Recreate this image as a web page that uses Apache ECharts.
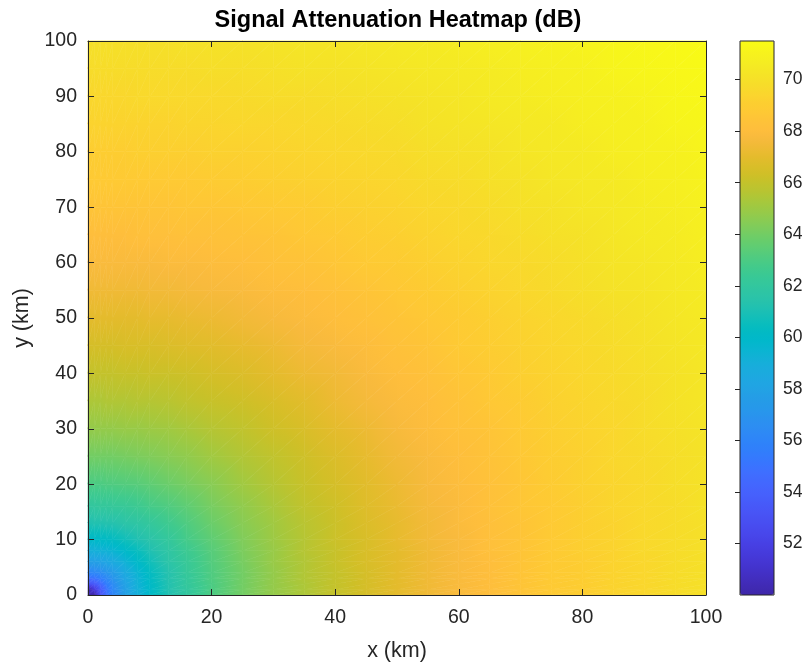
<!DOCTYPE html>
<html>
<head>
<meta charset="utf-8">
<script src="https://cdn.jsdelivr.net/npm/echarts@6.0.0/dist/echarts.min.js"></script>
<style>
html,body{margin:0;padding:0;background:#ffffff;}
#main{width:808px;height:668px;}
</style>
</head>
<body>
<div id="main"></div>
<script>
// Grid sample positions (km)
const xKm = [0,1,2,3,4,6,8,10,13,16,20,25,30,35,40,45,50,55,60,65,70,75,80,85,90,95,100];
const yKm = [0,1,2,3,4,6,8,10,13,16,20,25,30,35,40,45,50,55,60,65,70,75,80,85,90,95,100];

// Attenuation (dB), one row per yKm value, columns follow xKm
const attenuation = [
  [50.0,50.0,53.0,54.8,56.0,57.8,59.0,60.0,61.1,62.0,63.0,64.0,64.8,65.4,66.0,66.5,67.0,67.4,67.8,68.1,68.5,68.8,69.0,69.3,69.5,69.8,70.0],
  [50.0,51.5,53.5,55.0,56.2,57.8,59.1,60.0,61.2,62.0,63.0,64.0,64.8,65.4,66.0,66.5,67.0,67.4,67.8,68.1,68.5,68.8,69.0,69.3,69.5,69.8,70.0],
  [53.0,53.5,54.5,55.6,56.5,58.0,59.2,60.1,61.2,62.1,63.0,64.0,64.8,65.4,66.0,66.5,67.0,67.4,67.8,68.1,68.5,68.8,69.0,69.3,69.5,69.8,70.0],
  [54.8,55.0,55.6,56.3,57.0,58.3,59.3,60.2,61.3,62.1,63.1,64.0,64.8,65.5,66.0,66.5,67.0,67.4,67.8,68.1,68.5,68.8,69.0,69.3,69.5,69.8,70.0],
  [56.0,56.2,56.5,57.0,57.5,58.6,59.5,60.3,61.3,62.2,63.1,64.0,64.8,65.5,66.0,66.5,67.0,67.4,67.8,68.1,68.5,68.8,69.0,69.3,69.5,69.8,70.0],
  [57.8,57.8,58.0,58.3,58.6,59.3,60.0,60.7,61.6,62.3,63.2,64.1,64.9,65.5,66.1,66.6,67.0,67.4,67.8,68.1,68.5,68.8,69.0,69.3,69.5,69.8,70.0],
  [59.0,59.1,59.2,59.3,59.5,60.0,60.5,61.1,61.8,62.5,63.3,64.2,64.9,65.6,66.1,66.6,67.0,67.4,67.8,68.2,68.5,68.8,69.1,69.3,69.6,69.8,70.0],
  [60.0,60.0,60.1,60.2,60.3,60.7,61.1,61.5,62.1,62.8,63.5,64.3,65.0,65.6,66.2,66.6,67.1,67.5,67.8,68.2,68.5,68.8,69.1,69.3,69.6,69.8,70.0],
  [61.1,61.2,61.2,61.3,61.3,61.6,61.8,62.1,62.6,63.1,63.8,64.5,65.1,65.7,66.2,66.7,67.1,67.5,67.9,68.2,68.5,68.8,69.1,69.3,69.6,69.8,70.0],
  [62.0,62.0,62.1,62.1,62.2,62.3,62.5,62.8,63.1,63.5,64.1,64.7,65.3,65.9,66.3,66.8,67.2,67.6,67.9,68.3,68.6,68.8,69.1,69.4,69.6,69.8,70.1],
  [63.0,63.0,63.0,63.1,63.1,63.2,63.3,63.5,63.8,64.1,64.5,65.1,65.6,66.1,66.5,66.9,67.3,67.7,68.0,68.3,68.6,68.9,69.2,69.4,69.6,69.9,70.1],
  [64.0,64.0,64.0,64.0,64.0,64.1,64.2,64.3,64.5,64.7,65.1,65.5,65.9,66.3,66.7,67.1,67.5,67.8,68.1,68.4,68.7,69.0,69.2,69.5,69.7,69.9,70.1],
  [64.8,64.8,64.8,64.8,64.8,64.9,64.9,65.0,65.1,65.3,65.6,65.9,66.3,66.6,67.0,67.3,67.7,68.0,68.3,68.5,68.8,69.1,69.3,69.5,69.8,70.0,70.2],
  [65.4,65.4,65.4,65.5,65.5,65.5,65.6,65.6,65.7,65.9,66.1,66.3,66.6,66.9,67.3,67.6,67.9,68.1,68.4,68.7,68.9,69.2,69.4,69.6,69.8,70.1,70.3],
  [66.0,66.0,66.0,66.0,66.0,66.1,66.1,66.2,66.2,66.3,66.5,66.7,67.0,67.3,67.5,67.8,68.1,68.3,68.6,68.8,69.1,69.3,69.5,69.7,69.9,70.1,70.3],
  [66.5,66.5,66.5,66.5,66.5,66.6,66.6,66.6,66.7,66.8,66.9,67.1,67.3,67.6,67.8,68.0,68.3,68.5,68.8,69.0,69.2,69.4,69.6,69.8,70.0,70.2,70.4],
  [67.0,67.0,67.0,67.0,67.0,67.0,67.0,67.1,67.1,67.2,67.3,67.5,67.7,67.9,68.1,68.3,68.5,68.7,68.9,69.1,69.3,69.5,69.7,69.9,70.1,70.3,70.5],
  [67.4,67.4,67.4,67.4,67.4,67.4,67.4,67.5,67.5,67.6,67.7,67.8,68.0,68.1,68.3,68.5,68.7,68.9,69.1,69.3,69.5,69.7,69.9,70.1,70.2,70.4,70.6],
  [67.8,67.8,67.8,67.8,67.8,67.8,67.8,67.8,67.9,67.9,68.0,68.1,68.3,68.4,68.6,68.8,68.9,69.1,69.3,69.5,69.6,69.8,70.0,70.2,70.3,70.5,70.7],
  [68.1,68.1,68.1,68.1,68.1,68.1,68.2,68.2,68.2,68.3,68.3,68.4,68.5,68.7,68.8,69.0,69.1,69.3,69.5,69.6,69.8,70.0,70.1,70.3,70.5,70.6,70.8],
  [68.5,68.5,68.5,68.5,68.5,68.5,68.5,68.5,68.5,68.6,68.6,68.7,68.8,68.9,69.1,69.2,69.3,69.5,69.6,69.8,70.0,70.1,70.3,70.4,70.6,70.7,70.9],
  [68.8,68.8,68.8,68.8,68.8,68.8,68.8,68.8,68.8,68.8,68.9,69.0,69.1,69.2,69.3,69.4,69.5,69.7,69.8,70.0,70.1,70.3,70.4,70.5,70.7,70.8,71.0],
  [69.0,69.0,69.0,69.0,69.0,69.0,69.1,69.1,69.1,69.1,69.2,69.2,69.3,69.4,69.5,69.6,69.7,69.9,70.0,70.1,70.3,70.4,70.5,70.7,70.8,70.9,71.1],
  [69.3,69.3,69.3,69.3,69.3,69.3,69.3,69.3,69.3,69.4,69.4,69.5,69.5,69.6,69.7,69.8,69.9,70.1,70.2,70.3,70.4,70.5,70.7,70.8,70.9,71.1,71.2],
  [69.5,69.5,69.5,69.5,69.5,69.5,69.6,69.6,69.6,69.6,69.6,69.7,69.8,69.8,69.9,70.0,70.1,70.2,70.3,70.5,70.6,70.7,70.8,70.9,71.0,71.2,71.3],
  [69.8,69.8,69.8,69.8,69.8,69.8,69.8,69.8,69.8,69.8,69.9,69.9,70.0,70.1,70.1,70.2,70.3,70.4,70.5,70.6,70.7,70.8,70.9,71.1,71.2,71.3,71.4],
  [70.0,70.0,70.0,70.0,70.0,70.0,70.0,70.0,70.0,70.1,70.1,70.1,70.2,70.3,70.3,70.4,70.5,70.6,70.7,70.8,70.9,71.0,71.1,71.2,71.3,71.4,71.5]
];

// Axis / colour-bar ranges and tick steps
const xRange = [0, 100];
const yRange = [0, 100];
const xTickStep = 20;
const yTickStep = 10;
const colorRange = [50, 71.5];
const colorTickStep = 2;

// parula colour map (64 entries)
const parula = [
  '#3e26a8','#402ab4','#422ec0','#4332cb','#4537d5','#463cde','#4741e5','#4847eb',
  '#484df0','#4852f4','#4758f8','#465efb','#4563fd','#4269fe','#3e6fff','#3875fe',
  '#327cfc','#2f81fa','#2e87f7','#2d8cf3','#2b91ef','#2797eb','#259be7','#23a0e5',
  '#20a5e3','#1ca9df','#18addb','#12b1d6','#08b5d0','#01b8ca','#02bac3','#0bbdbc',
  '#19bfb6','#24c1ae','#2cc4a7','#31c69f','#37c897','#3fca8e','#4acb84','#57cc7a',
  '#64cd6f','#72cd64','#81cc59','#8fcb4e','#9dc943','#abc739','#b9c431','#c5c22a',
  '#d1bf27','#dcbd29','#e6bb2d','#f0ba36','#f8ba3d','#febe3c','#fec338','#fec934',
  '#fccf30','#fad62d','#f7dc2a','#f5e327','#f5e924','#f6ef20','#f7f51b','#f9fb15'
];

const cells = [];
for (let j = 0; j < yKm.length; j++) {
  for (let i = 0; i < xKm.length; i++) {
    cells.push([xKm[i], yKm[j], attenuation[j][i], i, j]);
  }
}

function colorOf(v) {
  let t = (v - colorRange[0]) / (colorRange[1] - colorRange[0]);
  t = Math.max(0, Math.min(1, t));
  return echarts.color.lerp(t, parula);
}

// planar colour interpolation over a triangle (like shading interp)
function shadeTriangle(tri) {
  const A = tri[0], B = tri[1], C = tri[2];
  const dxB = B.x - A.x, dyB = B.y - A.y, dxC = C.x - A.x, dyC = C.y - A.y;
  const det = dxB * dyC - dxC * dyB;
  const dv1 = B.v - A.v, dv2 = C.v - A.v;
  const vs = [A.v, B.v, C.v];
  const vmin = Math.min.apply(null, vs), vmax = Math.max.apply(null, vs);
  let fill;
  if (Math.abs(det) < 1e-9 || vmax - vmin < 1e-6) {
    fill = colorOf((vmin + vmax) / 2);
  } else {
    const a = (dv1 * dyC - dv2 * dyB) / det;
    const b = (dxB * dv2 - dxC * dv1) / det;
    const g2 = a * a + b * b;
    const P = tri[vs.indexOf(vmin)];
    const k = (vmax - vmin) / g2;
    const n = Math.max(2, Math.ceil((vmax - vmin) / 0.2) + 1);
    const stops = [];
    for (let s = 0; s < n; s++) {
      const t = s / (n - 1);
      stops.push({offset: t, color: colorOf(vmin + t * (vmax - vmin))});
    }
    fill = {type: 'linear', x: P.x, y: P.y, x2: P.x + a * k, y2: P.y + b * k, colorStops: stops, global: true};
  }
  return {
    type: 'polygon',
    shape: {points: [[A.x, A.y], [B.x, B.y], [C.x, C.y]]},
    style: {fill: fill, stroke: fill, lineWidth: 0.6}
  };
}

const FONT = "'Liberation Sans', Arial, Helvetica, sans-serif";
const INK = '#262626';

const chart = echarts.init(document.getElementById('main'), null, {renderer: 'canvas'});

const baseAxis = {
  type: 'value',
  z: 10,
  axisLine: {show: true, onZero: false, lineStyle: {color: INK, width: 1}},
  axisTick: {show: true, inside: true, length: 6, lineStyle: {color: INK, width: 1}},
  splitLine: {show: false},
  axisLabel: {color: INK, fontSize: 19.5, fontFamily: FONT}
};

const option = {
  backgroundColor: '#ffffff',
  animation: false,
  title: {
    text: 'Signal Attenuation Heatmap (dB)',
    left: 398,
    textAlign: 'center',
    top: 9,
    padding: 0,
    textStyle: {fontSize: 23.5, fontWeight: 'bold', color: '#000000', fontFamily: FONT}
  },
  grid: [
    {left: 88, top: 41, width: 618, height: 554},
    {left: 740, top: 41, width: 34, height: 554, show: true, backgroundColor: 'transparent', borderColor: INK, borderWidth: 1, z: 10}
  ],
  xAxis: [
    Object.assign({}, baseAxis, {
      gridIndex: 0, position: 'bottom', min: xRange[0], max: xRange[1], interval: xTickStep,
      axisLabel: Object.assign({}, baseAxis.axisLabel, {margin: 13}),
      name: 'x (km)', nameLocation: 'middle', nameGap: 45,
      nameTextStyle: {color: INK, fontSize: 21.5, fontFamily: FONT}
    }),
    Object.assign({}, baseAxis, {
      gridIndex: 0, position: 'top', min: xRange[0], max: xRange[1], interval: xTickStep,
      axisLabel: {show: false}
    }),
    {gridIndex: 1, type: 'value', show: false, min: 0, max: 1}
  ],
  yAxis: [
    Object.assign({}, baseAxis, {
      gridIndex: 0, position: 'left', min: yRange[0], max: yRange[1], interval: yTickStep,
      axisLabel: Object.assign({}, baseAxis.axisLabel, {margin: 11}),
      name: 'y (km)', nameLocation: 'middle', nameGap: 55, nameRotate: 90,
      nameTextStyle: {color: INK, fontSize: 21.5, fontFamily: FONT}
    }),
    Object.assign({}, baseAxis, {
      gridIndex: 0, position: 'right', min: yRange[0], max: yRange[1], interval: yTickStep,
      axisLabel: {show: false}
    }),
    {
      gridIndex: 1, type: 'value', position: 'right', z: 11,
      min: colorRange[0], max: colorRange[1], interval: colorTickStep,
      axisLine: {show: false},
      axisTick: {show: true, inside: true, length: 5, lineStyle: {color: INK, width: 1}},
      splitLine: {show: false},
      axisLabel: {color: INK, fontSize: 17.5, fontFamily: FONT, margin: 9, showMinLabel: false, showMaxLabel: false}
    }
  ],
  visualMap: {
    type: 'continuous',
    seriesIndex: 0,
    dimension: 2,
    min: colorRange[0],
    max: colorRange[1],
    calculable: false,
    hoverLink: false,
    orient: 'vertical',
    left: 740,
    top: 41,
    itemWidth: 34,
    itemHeight: 554,
    padding: 0,
    text: null,
    inRange: {color: parula}
  },
  series: [{
    type: 'custom',
    coordinateSystem: 'cartesian2d',
    xAxisIndex: 0,
    yAxisIndex: 0,
    dimensions: ['x', 'y', 'dB', 'ix', 'iy'],
    encode: {x: 0, y: 1},
    data: cells,
    silent: true,
    renderItem: function (params, api) {
      const i = api.value(3), j = api.value(4);
      if (i >= xKm.length - 1 || j >= yKm.length - 1) return null;
      const idx = [[i, j], [i + 1, j], [i + 1, j + 1], [i, j + 1]];
      const c = idx.map(function (q) {
        const p = api.coord([xKm[q[0]], yKm[q[1]]]);
        return {x: p[0], y: p[1], v: attenuation[q[1]][q[0]]};
      });
      return {
        type: 'group',
        children: [shadeTriangle([c[0], c[1], c[2]]), shadeTriangle([c[0], c[2], c[3]])]
      };
    }
  }]
};

chart.setOption(option);
</script>
</body>
</html>
